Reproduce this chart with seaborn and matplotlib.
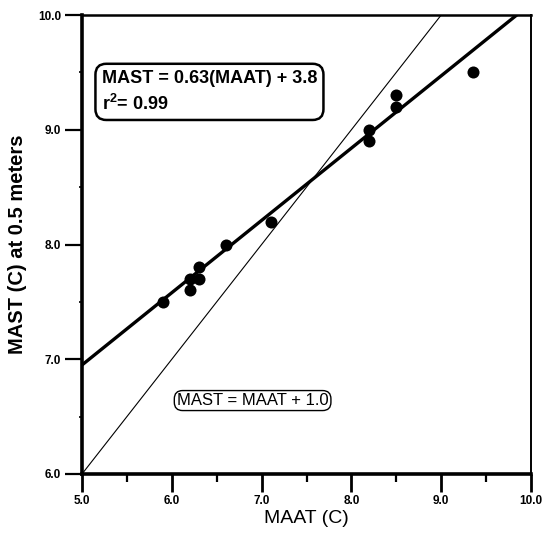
import matplotlib
matplotlib.use("Agg")
import matplotlib.pyplot as plt
import seaborn as sns
import numpy as np
import pandas as pd
from matplotlib.ticker import MultipleLocator, FormatStrFormatter

# ---- data ----
maat = [5.9, 6.2, 6.2, 6.3, 6.3, 6.6, 7.1, 8.2, 8.2, 8.5, 8.5, 9.35]
mast = [7.5, 7.7, 7.6, 7.8, 7.7, 8.0, 8.2, 9.0, 8.9, 9.3, 9.2, 9.5]
fit_slope = 0.63
fit_intercept = 3.8
ref_slope = 1.0
ref_intercept = 1.0
x_line = [5.0, 10.0]
fit_label = "MAST = 0.63(MAAT) + 3.8\nr$^{\\mathbf{2}}$= 0.99"
ref_label = "MAST = MAAT + 1.0"
x_ticks = [5.0, 6.0, 7.0, 8.0, 9.0, 10.0]
y_ticks = [6.0, 7.0, 8.0, 9.0, 10.0]

df = pd.DataFrame({"MAAT": maat, "MAST": mast})
xl = np.array(x_line)
fit_df = pd.DataFrame({"x": xl, "y": fit_slope * xl + fit_intercept})
ref_df = pd.DataFrame({"x": xl, "y": ref_slope * xl + ref_intercept})

sns.set_style("ticks")
plt.rcParams["font.family"] = ["Liberation Sans", "DejaVu Sans"]
plt.rcParams["text.color"] = "black"
plt.rcParams["axes.labelcolor"] = "black"
plt.rcParams["xtick.color"] = "black"
plt.rcParams["ytick.color"] = "black"
plt.rcParams["mathtext.fontset"] = "custom"
plt.rcParams["mathtext.rm"] = "Liberation Sans:bold"
plt.rcParams["mathtext.bf"] = "Liberation Sans:bold"

fig = plt.figure(figsize=(5.45, 5.37), dpi=100)
ax = fig.add_axes([82 / 545, 1 - 474 / 537, (531 - 82) / 545, (474 - 15) / 537])

sns.lineplot(data=ref_df, x="x", y="y", ax=ax, color="black", lw=0.8)
sns.lineplot(data=fit_df, x="x", y="y", ax=ax, color="black", lw=2.4)
sns.scatterplot(data=df, x="MAAT", y="MAST", ax=ax, color="black", s=75,
                edgecolor="black", linewidth=0, zorder=5)

ax.set_xlim(5, 10)
ax.set_ylim(6, 10)
ax.set_xticks(x_ticks)
ax.set_yticks(y_ticks)
ax.xaxis.set_major_formatter(FormatStrFormatter("%.1f"))
ax.yaxis.set_major_formatter(FormatStrFormatter("%.1f"))
ax.xaxis.set_minor_locator(MultipleLocator(0.5))
ax.yaxis.set_minor_locator(MultipleLocator(0.5))
ax.tick_params(axis="x", which="major", direction="out", length=13, width=2,
               labelsize=8.5, pad=2)
ax.tick_params(axis="x", which="minor", direction="out", length=6, width=1.6)
ax.tick_params(axis="y", which="major", direction="out", length=12, width=1.6,
               labelsize=8.5, pad=3)
ax.tick_params(axis="y", which="minor", direction="out", length=2, width=1.2)
for lab in ax.get_xticklabels() + ax.get_yticklabels():
    lab.set_fontweight("bold")

for side, lw in [("left", 2.6), ("bottom", 2.6), ("top", 1.8), ("right", 1.4)]:
    ax.spines[side].set_visible(True)
    ax.spines[side].set_linewidth(lw)
    ax.spines[side].set_color("black")

ax.set_xlabel("MAAT (C)", fontsize=14, labelpad=2)
ax.set_ylabel("MAST (C) at 0.5 meters", fontsize=14.5, fontweight="bold", labelpad=8)

ax.text(5.22, 9.33, fit_label, ha="left", va="center", fontsize=13,
        fontweight="bold", linespacing=1.4,
        bbox=dict(boxstyle="round,pad=0.35,rounding_size=0.6", fc="white",
                  ec="black", lw=1.8), zorder=6)
ax.text(6.9, 6.64, ref_label, ha="center", va="center", fontsize=12,
        bbox=dict(boxstyle="round,pad=0.15,rounding_size=0.5", fc="white",
                  ec="black", lw=1.0), zorder=6)

fig.savefig("out.png", dpi=100)
